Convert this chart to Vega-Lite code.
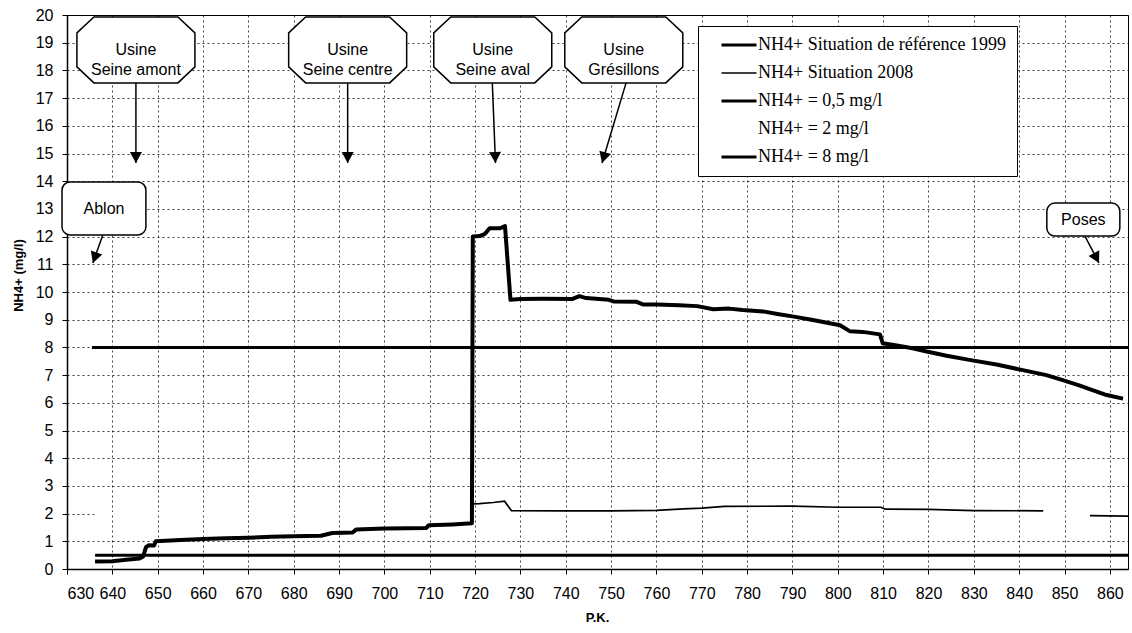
{
  "$schema": "https://vega.github.io/schema/vega-lite/v6.json",
  "width": 1061,
  "height": 554,
  "autosize": {"type": "none"},
  "padding": {"left": 67, "top": 15, "right": 4, "bottom": 64},
  "background": "white",
  "config": {
    "view": {"stroke": "black", "strokeWidth": 1},
    "font": "Liberation Sans",
    "axis": {
      "domainColor": "black", "domainWidth": 1.5,
      "tickColor": "black", "tickSize": 5,
      "grid": true, "gridColor": "black", "gridDash": [2, 3], "gridOpacity": 0.75, "gridWidth": 1,
      "labelFont": "Liberation Sans", "labelFontSize": 16, "labelColor": "black",
      "titleFont": "Liberation Sans", "titleFontSize": 13, "titleFontWeight": "bold", "titleColor": "black"
    }
  },
  "datasets": {
    "curves": [
      {"pk": 636.2, "nh4": 0.27, "serie": "NH4+ Situation de référence 1999"},
      {"pk": 640, "nh4": 0.28, "serie": "NH4+ Situation de référence 1999"},
      {"pk": 643, "nh4": 0.33, "serie": "NH4+ Situation de référence 1999"},
      {"pk": 646, "nh4": 0.38, "serie": "NH4+ Situation de référence 1999"},
      {"pk": 646.8, "nh4": 0.45, "serie": "NH4+ Situation de référence 1999"},
      {"pk": 647.4, "nh4": 0.78, "serie": "NH4+ Situation de référence 1999"},
      {"pk": 648, "nh4": 0.86, "serie": "NH4+ Situation de référence 1999"},
      {"pk": 649.2, "nh4": 0.85, "serie": "NH4+ Situation de référence 1999"},
      {"pk": 649.6, "nh4": 1.0, "serie": "NH4+ Situation de référence 1999"},
      {"pk": 655, "nh4": 1.05, "serie": "NH4+ Situation de référence 1999"},
      {"pk": 660, "nh4": 1.08, "serie": "NH4+ Situation de référence 1999"},
      {"pk": 665, "nh4": 1.11, "serie": "NH4+ Situation de référence 1999"},
      {"pk": 670, "nh4": 1.13, "serie": "NH4+ Situation de référence 1999"},
      {"pk": 675, "nh4": 1.16, "serie": "NH4+ Situation de référence 1999"},
      {"pk": 680, "nh4": 1.18, "serie": "NH4+ Situation de référence 1999"},
      {"pk": 686, "nh4": 1.2, "serie": "NH4+ Situation de référence 1999"},
      {"pk": 688.5, "nh4": 1.3, "serie": "NH4+ Situation de référence 1999"},
      {"pk": 693, "nh4": 1.32, "serie": "NH4+ Situation de référence 1999"},
      {"pk": 693.8, "nh4": 1.43, "serie": "NH4+ Situation de référence 1999"},
      {"pk": 700, "nh4": 1.46, "serie": "NH4+ Situation de référence 1999"},
      {"pk": 705, "nh4": 1.47, "serie": "NH4+ Situation de référence 1999"},
      {"pk": 709.2, "nh4": 1.48, "serie": "NH4+ Situation de référence 1999"},
      {"pk": 709.8, "nh4": 1.58, "serie": "NH4+ Situation de référence 1999"},
      {"pk": 715, "nh4": 1.61, "serie": "NH4+ Situation de référence 1999"},
      {"pk": 719.3, "nh4": 1.65, "serie": "NH4+ Situation de référence 1999"},
      {"pk": 719.5, "nh4": 12.0, "serie": "NH4+ Situation de référence 1999"},
      {"pk": 721, "nh4": 12.02, "serie": "NH4+ Situation de référence 1999"},
      {"pk": 722.2, "nh4": 12.1, "serie": "NH4+ Situation de référence 1999"},
      {"pk": 723.2, "nh4": 12.3, "serie": "NH4+ Situation de référence 1999"},
      {"pk": 725.5, "nh4": 12.3, "serie": "NH4+ Situation de référence 1999"},
      {"pk": 726.6, "nh4": 12.38, "serie": "NH4+ Situation de référence 1999"},
      {"pk": 727.8, "nh4": 9.72, "serie": "NH4+ Situation de référence 1999"},
      {"pk": 730, "nh4": 9.75, "serie": "NH4+ Situation de référence 1999"},
      {"pk": 735, "nh4": 9.76, "serie": "NH4+ Situation de référence 1999"},
      {"pk": 741.5, "nh4": 9.75, "serie": "NH4+ Situation de référence 1999"},
      {"pk": 743, "nh4": 9.85, "serie": "NH4+ Situation de référence 1999"},
      {"pk": 744.5, "nh4": 9.78, "serie": "NH4+ Situation de référence 1999"},
      {"pk": 749.5, "nh4": 9.72, "serie": "NH4+ Situation de référence 1999"},
      {"pk": 750.5, "nh4": 9.66, "serie": "NH4+ Situation de référence 1999"},
      {"pk": 755.5, "nh4": 9.65, "serie": "NH4+ Situation de référence 1999"},
      {"pk": 757, "nh4": 9.55, "serie": "NH4+ Situation de référence 1999"},
      {"pk": 760, "nh4": 9.55, "serie": "NH4+ Situation de référence 1999"},
      {"pk": 765, "nh4": 9.52, "serie": "NH4+ Situation de référence 1999"},
      {"pk": 769, "nh4": 9.49, "serie": "NH4+ Situation de référence 1999"},
      {"pk": 772.5, "nh4": 9.38, "serie": "NH4+ Situation de référence 1999"},
      {"pk": 776, "nh4": 9.4, "serie": "NH4+ Situation de référence 1999"},
      {"pk": 779, "nh4": 9.35, "serie": "NH4+ Situation de référence 1999"},
      {"pk": 783.5, "nh4": 9.3, "serie": "NH4+ Situation de référence 1999"},
      {"pk": 787, "nh4": 9.2, "serie": "NH4+ Situation de référence 1999"},
      {"pk": 790, "nh4": 9.12, "serie": "NH4+ Situation de référence 1999"},
      {"pk": 794.5, "nh4": 8.99, "serie": "NH4+ Situation de référence 1999"},
      {"pk": 800.5, "nh4": 8.8, "serie": "NH4+ Situation de référence 1999"},
      {"pk": 802.7, "nh4": 8.58, "serie": "NH4+ Situation de référence 1999"},
      {"pk": 805.5, "nh4": 8.56, "serie": "NH4+ Situation de référence 1999"},
      {"pk": 809.3, "nh4": 8.47, "serie": "NH4+ Situation de référence 1999"},
      {"pk": 809.9, "nh4": 8.15, "serie": "NH4+ Situation de référence 1999"},
      {"pk": 813, "nh4": 8.07, "serie": "NH4+ Situation de référence 1999"},
      {"pk": 816.5, "nh4": 7.97, "serie": "NH4+ Situation de référence 1999"},
      {"pk": 819.6, "nh4": 7.85, "serie": "NH4+ Situation de référence 1999"},
      {"pk": 824, "nh4": 7.7, "serie": "NH4+ Situation de référence 1999"},
      {"pk": 829, "nh4": 7.55, "serie": "NH4+ Situation de référence 1999"},
      {"pk": 835, "nh4": 7.38, "serie": "NH4+ Situation de référence 1999"},
      {"pk": 840.8, "nh4": 7.18, "serie": "NH4+ Situation de référence 1999"},
      {"pk": 846, "nh4": 7.0, "serie": "NH4+ Situation de référence 1999"},
      {"pk": 849.6, "nh4": 6.82, "serie": "NH4+ Situation de référence 1999"},
      {"pk": 853.4, "nh4": 6.62, "serie": "NH4+ Situation de référence 1999"},
      {"pk": 856, "nh4": 6.47, "serie": "NH4+ Situation de référence 1999"},
      {"pk": 859.3, "nh4": 6.28, "serie": "NH4+ Situation de référence 1999"},
      {"pk": 862.9, "nh4": 6.15, "serie": "NH4+ Situation de référence 1999"},

      {"pk": 636.2, "nh4": 0.27, "serie": "NH4+ Situation 2008"},
      {"pk": 640, "nh4": 0.28, "serie": "NH4+ Situation 2008"},
      {"pk": 643, "nh4": 0.33, "serie": "NH4+ Situation 2008"},
      {"pk": 646, "nh4": 0.38, "serie": "NH4+ Situation 2008"},
      {"pk": 646.8, "nh4": 0.45, "serie": "NH4+ Situation 2008"},
      {"pk": 647.4, "nh4": 0.78, "serie": "NH4+ Situation 2008"},
      {"pk": 648, "nh4": 0.86, "serie": "NH4+ Situation 2008"},
      {"pk": 649.2, "nh4": 0.85, "serie": "NH4+ Situation 2008"},
      {"pk": 649.6, "nh4": 1.0, "serie": "NH4+ Situation 2008"},
      {"pk": 655, "nh4": 1.05, "serie": "NH4+ Situation 2008"},
      {"pk": 660, "nh4": 1.08, "serie": "NH4+ Situation 2008"},
      {"pk": 665, "nh4": 1.11, "serie": "NH4+ Situation 2008"},
      {"pk": 670, "nh4": 1.13, "serie": "NH4+ Situation 2008"},
      {"pk": 675, "nh4": 1.16, "serie": "NH4+ Situation 2008"},
      {"pk": 680, "nh4": 1.18, "serie": "NH4+ Situation 2008"},
      {"pk": 686, "nh4": 1.2, "serie": "NH4+ Situation 2008"},
      {"pk": 688.5, "nh4": 1.3, "serie": "NH4+ Situation 2008"},
      {"pk": 693, "nh4": 1.32, "serie": "NH4+ Situation 2008"},
      {"pk": 693.8, "nh4": 1.43, "serie": "NH4+ Situation 2008"},
      {"pk": 700, "nh4": 1.46, "serie": "NH4+ Situation 2008"},
      {"pk": 705, "nh4": 1.47, "serie": "NH4+ Situation 2008"},
      {"pk": 709.2, "nh4": 1.48, "serie": "NH4+ Situation 2008"},
      {"pk": 709.8, "nh4": 1.58, "serie": "NH4+ Situation 2008"},
      {"pk": 715, "nh4": 1.61, "serie": "NH4+ Situation 2008"},
      {"pk": 719.3, "nh4": 1.65, "serie": "NH4+ Situation 2008"},
      {"pk": 719.5, "nh4": 2.35, "serie": "NH4+ Situation 2008"},
      {"pk": 721, "nh4": 2.36, "serie": "NH4+ Situation 2008"},
      {"pk": 724, "nh4": 2.4, "serie": "NH4+ Situation 2008"},
      {"pk": 726.5, "nh4": 2.45, "serie": "NH4+ Situation 2008"},
      {"pk": 728, "nh4": 2.11, "serie": "NH4+ Situation 2008"},
      {"pk": 740, "nh4": 2.1, "serie": "NH4+ Situation 2008"},
      {"pk": 750, "nh4": 2.1, "serie": "NH4+ Situation 2008"},
      {"pk": 760, "nh4": 2.12, "serie": "NH4+ Situation 2008"},
      {"pk": 766, "nh4": 2.17, "serie": "NH4+ Situation 2008"},
      {"pk": 770, "nh4": 2.2, "serie": "NH4+ Situation 2008"},
      {"pk": 775, "nh4": 2.26, "serie": "NH4+ Situation 2008"},
      {"pk": 790, "nh4": 2.27, "serie": "NH4+ Situation 2008"},
      {"pk": 800, "nh4": 2.23, "serie": "NH4+ Situation 2008"},
      {"pk": 809.5, "nh4": 2.23, "serie": "NH4+ Situation 2008"},
      {"pk": 810.5, "nh4": 2.16, "serie": "NH4+ Situation 2008"},
      {"pk": 820, "nh4": 2.15, "serie": "NH4+ Situation 2008"},
      {"pk": 830, "nh4": 2.11, "serie": "NH4+ Situation 2008"},
      {"pk": 845.3, "nh4": 2.1, "serie": "NH4+ Situation 2008"},
      {"pk": 850, "nh4": null, "serie": "NH4+ Situation 2008"},
      {"pk": 855.6, "nh4": 1.93, "serie": "NH4+ Situation 2008"},
      {"pk": 864, "nh4": 1.91, "serie": "NH4+ Situation 2008"},

      {"pk": 636.2, "nh4": 0.5, "serie": "NH4+ = 0,5 mg/l"},
      {"pk": 864, "nh4": 0.5, "serie": "NH4+ = 0,5 mg/l"},
      {"pk": 636.4, "nh4": 2, "serie": "NH4+ = 2 mg/l"},
      {"pk": 864, "nh4": 2, "serie": "NH4+ = 2 mg/l"},
      {"pk": 635.5, "nh4": 8, "serie": "NH4+ = 8 mg/l"},
      {"pk": 864, "nh4": 8, "serie": "NH4+ = 8 mg/l"}
    ],
    "callouts": [
      {"label": "Usine\nSeine amont", "kind": "usine", "pk": 645.2, "nh4": 18.74},
      {"label": "Usine\nSeine centre", "kind": "usine", "pk": 691.9, "nh4": 18.74},
      {"label": "Usine\nSeine aval", "kind": "usine", "pk": 723.9, "nh4": 18.74},
      {"label": "Usine\nGrésillons", "kind": "usine", "pk": 752.8, "nh4": 18.74},
      {"label": "Ablon", "kind": "site", "pk": 638.15, "nh4": 13.0},
      {"label": "Poses", "kind": "site", "pk": 854.15, "nh4": 12.6}
    ],
    "frames": [
      {"pk": 628.9, "pk2": 647.4, "nh4": 12.06, "nh42": 13.97},
      {"pk": 846.1, "pk2": 862.2, "nh4": 12.02, "nh42": 13.21}
    ],
    "arrows": [
      {"pk": 645.2, "nh4": 17.55, "pk2": 645.2, "nh42": 14.66, "angle": 0},
      {"pk": 691.9, "nh4": 17.55, "pk2": 691.9, "nh42": 14.66, "angle": 0},
      {"pk": 723.8, "nh4": 17.55, "pk2": 724.5, "nh42": 14.66, "angle": -2.4},
      {"pk": 753.3, "nh4": 17.55, "pk2": 748.0, "nh42": 14.66, "angle": 16.7},
      {"pk": 637.9, "nh4": 12.06, "pk2": 635.7, "nh42": 11.05, "angle": 19.7},
      {"pk": 854.5, "nh4": 12.02, "pk2": 857.6, "nh42": 11.05, "angle": -27.4}
    ]
  },
  "encoding": {
    "x": {
      "field": "pk", "type": "quantitative",
      "scale": {"domain": [630, 864], "nice": false, "zero": false},
      "axis": {
        "title": "P.K.", "values": [630, 640, 650, 660, 670, 680, 690, 700, 710, 720, 730, 740, 750, 760, 770, 780, 790, 800, 810, 820, 830, 840, 850, 860],
        "labelPadding": 11, "titleX": 530, "titleY": 48, "titleBaseline": "middle", "titleAlign": "center"
      }
    },
    "y": {
      "field": "nh4", "type": "quantitative",
      "scale": {"domain": [0, 20], "nice": false},
      "axis": {
        "title": "NH4+ (mg/l)", "values": [0, 1, 2, 3, 4, 5, 6, 7, 8, 9, 10, 11, 12, 13, 14, 15, 16, 17, 18, 19, 20],
        "labelPadding": 9, "titleX": -49, "titleY": 260, "titleBaseline": "middle", "titleAlign": "center"
      }
    }
  },
  "layer": [
    {
      "data": {"name": "curves"},
      "transform": [{"filter": "indexof(['NH4+ = 0,5 mg/l','NH4+ = 2 mg/l','NH4+ = 8 mg/l'], datum.serie) >= 0"}],
      "mark": {"type": "line", "strokeWidth": 3},
      "encoding": {
        "color": {
          "field": "serie", "type": "nominal",
          "scale": {
            "domain": ["NH4+ Situation de référence 1999", "NH4+ Situation 2008", "NH4+ = 0,5 mg/l", "NH4+ = 2 mg/l", "NH4+ = 8 mg/l"],
            "range": ["#000000", "#000000", "#000000", "#ffffff", "#000000"]
          },
          "legend": {
            "title": null, "orient": "none", "legendX": 631, "legendY": 11,
            "symbolType": "stroke", "symbolSize": 1225, "symbolStrokeWidth": 3,
            "labelFont": "Liberation Serif", "labelFontSize": 18, "labelColor": "black", "labelLimit": 400,
            "labelOffset": 10, "symbolOffset": 22,
            "padding": 10, "rowPadding": 10,
            "strokeColor": "black", "fillColor": "white",
            "encode": {"symbols": {"update": {"strokeWidth": {"signal": "datum.label === 'NH4+ Situation 2008' ? 1.7 : 3"}}}}
          }
        }
      }
    },
    {
      "data": {"name": "curves"},
      "transform": [{"filter": "datum.serie === 'NH4+ Situation de référence 1999'"}],
      "mark": {"type": "line", "strokeWidth": 4, "strokeJoin": "round"},
      "encoding": {"color": {"field": "serie", "type": "nominal"}}
    },
    {
      "data": {"name": "curves"},
      "transform": [{"filter": "datum.serie === 'NH4+ Situation 2008'"}],
      "mark": {"type": "line", "strokeWidth": 1.7},
      "encoding": {"color": {"field": "serie", "type": "nominal"}}
    },
    {
      "data": {"name": "arrows"},
      "mark": {"type": "rule", "color": "black", "strokeWidth": 1.5},
      "encoding": {
        "x2": {"field": "pk2"},
        "y2": {"field": "nh42"}
      }
    },
    {
      "data": {"name": "arrows"},
      "mark": {"type": "point", "shape": "M0,0L-0.55,-1L0.55,-1Z", "filled": true, "color": "black", "opacity": 1, "size": 484},
      "encoding": {
        "x": {"field": "pk2", "type": "quantitative"},
        "y": {"field": "nh42", "type": "quantitative"},
        "angle": {"field": "angle", "type": "quantitative", "scale": null}
      }
    },
    {
      "data": {"name": "callouts"},
      "transform": [{"filter": "datum.kind === 'usine'"}],
      "mark": {"type": "point", "shape": "M-0.712,-0.559L0.712,-0.559L1,-0.288L1,0.288L0.712,0.559L-0.712,0.559L-1,0.288L-1,-0.288Z", "filled": true, "fill": "white", "stroke": "black", "strokeWidth": 1.5, "opacity": 1, "size": 13924}
    },
    {
      "data": {"name": "frames"},
      "mark": {"type": "rect", "fill": "white", "stroke": "black", "strokeWidth": 1.5, "cornerRadius": 8},
      "encoding": {
        "x2": {"field": "pk2"},
        "y2": {"field": "nh42"}
      }
    },
    {
      "data": {"name": "callouts"},
      "mark": {"type": "text", "font": "Liberation Sans", "fontSize": 16, "color": "black", "align": "center", "baseline": "middle", "lineBreak": "\n", "lineHeight": 20},
      "encoding": {"text": {"field": "label"}}
    }
  ]
}
